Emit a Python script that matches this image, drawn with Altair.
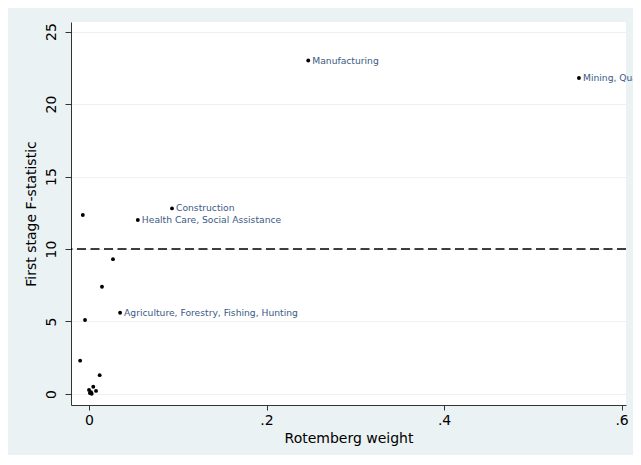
import altair as alt
import pandas as pd

# Rotemberg weight (x) and first-stage F-statistic (y)
weights = [0.247, 0.552, 0.0935, 0.055, 0.035, -0.007, 0.027, 0.0146, -0.0045, -0.010, 0.012,
           0.0048, 0.0, 0.0079, 0.0023, 0.003, 0.001]
fstats = [23.0, 21.8, 12.8, 12.0, 5.6, 12.35, 9.3, 7.4, 5.1, 2.3, 1.3,
          0.50, 0.28, 0.21, 0.12, 0.02, 0.07]
labels = ["Manufacturing", "Mining, Quarrying, Oil and Gas Extraction", "Construction",
          "Health Care, Social Assistance", "Agriculture, Forestry, Fishing, Hunting",
          "", "", "", "", "", "", "", "", "", "", "", ""]
threshold = [10]

df = pd.DataFrame({"w": weights, "f": fstats, "label": labels})

FONT = "DejaVu Sans"
BG = "#eaf2f3"

xscale = alt.Scale(domain=[-0.0203, 0.605], nice=False, zero=False)
yscale = alt.Scale(domain=[-0.76, 25.66], nice=False, zero=False)

x = alt.X("w:Q", scale=xscale, title="Rotemberg weight",
          axis=alt.Axis(values=[0, 0.2, 0.4, 0.6], grid=False,
                        labelExpr="datum.value == 0 ? '0' : replace(format(datum.value, '.1f'), '0.', '.')",
                        tickSize=5, labelPadding=3, titlePadding=4))
y = alt.Y("f:Q", scale=yscale, title="First stage F-statistic",
          axis=alt.Axis(values=[0, 5, 10, 15, 20, 25], grid=True, gridColor=BG, gridWidth=1,
                        labelAngle=-90, labelAlign="center", labelBaseline="bottom",
                        tickSize=6, labelPadding=7, titlePadding=6))

points = alt.Chart(df).mark_circle(color="black", size=15, opacity=1).encode(x=x, y=y)
text = alt.Chart(df).mark_text(align="left", baseline="middle", dx=4, fontSize=9.2,
                               font=FONT, color="#3b5a84").encode(
    x=alt.X("w:Q", scale=xscale), y=alt.Y("f:Q", scale=yscale), text="label:N")
rule = alt.Chart(pd.DataFrame({"t": threshold})).mark_rule(
    color="black", strokeDash=[9, 4.5], strokeWidth=1.4).encode(y=alt.Y("t:Q", scale=yscale))

chart = (rule + points + text).properties(
    width=555, height=383,
    autosize=alt.AutoSizeParams(type="none"),
    padding={"left": 63, "top": 14, "right": 7, "bottom": 50},
    background=BG,
).configure_view(stroke=None, fill="white").configure_axis(
    labelFont=FONT, titleFont=FONT, labelFontSize=14, titleFontSize=14,
    labelColor="black", titleColor="black", titleFontWeight="normal",
    domainColor="#333333", tickColor="#333333", domainWidth=1, tickWidth=1,
)

chart.save("out.html", embed_options={"renderer": "svg", "actions": False})
